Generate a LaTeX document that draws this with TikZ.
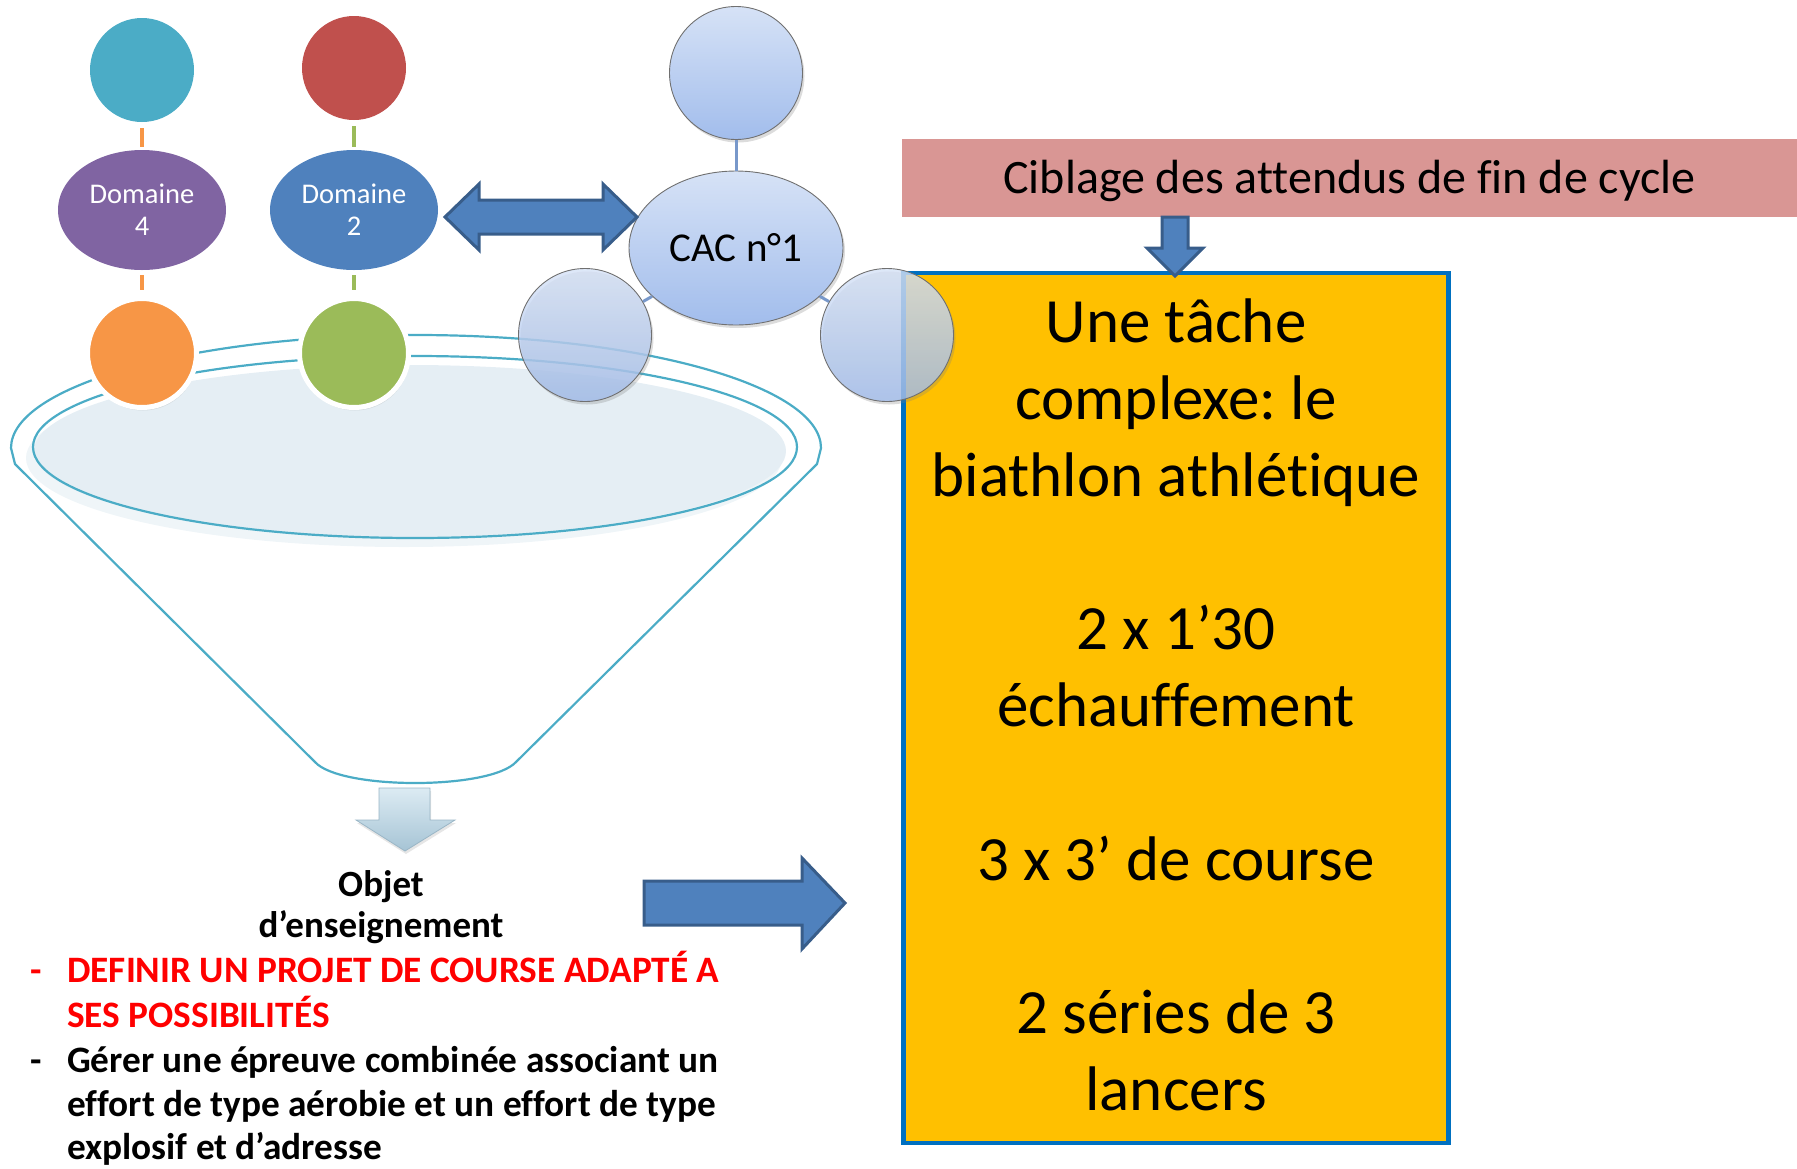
\documentclass[tikz,border=0pt]{standalone}
\usepackage{fontspec}
\setmainfont{Carlito}[Ligatures=NoCommon]
\frenchspacing
\usetikzlibrary{shapes.geometric,shadows}

\definecolor{tealball}{HTML}{4BACC6}
\definecolor{redball}{HTML}{C0504D}
\definecolor{purpleball}{HTML}{8064A2}
\definecolor{blueball}{HTML}{4F81BD}
\definecolor{orangeball}{HTML}{F79646}
\definecolor{greenball}{HTML}{9BBB59}
\definecolor{cactop}{HTML}{D6E2F6}
\definecolor{cacbot}{HTML}{A2BDEC}
\definecolor{cacedge}{HTML}{707070}
\definecolor{cacline}{HTML}{7898CA}
\definecolor{bannerfill}{HTML}{D99694}
\definecolor{taskfill}{HTML}{FFC000}
\definecolor{taskedge}{HTML}{0070C0}
\definecolor{arrowfill}{HTML}{4F81BD}
\definecolor{arrowedge}{HTML}{385D8A}
\definecolor{funnelline}{HTML}{4BACC6}
\definecolor{funnelfill}{HTML}{E5EEF4}
\definecolor{funnelhalo}{HTML}{EFF5F8}
\definecolor{droptop}{HTML}{DCEBF3}
\definecolor{dropbot}{HTML}{A6C4D5}
\definecolor{dropedge}{HTML}{9AB6C6}
\definecolor{redtext}{HTML}{FF0000}

\begin{document}
\begin{tikzpicture}[x=1pt,y=-1pt,
  dot/.style={circle, inner sep=0pt, minimum size=104pt},
  ringdot/.style={dot, minimum size=109pt, draw=white, line width=5pt,
    drop shadow={opacity=0.18, shadow xshift=1pt, shadow yshift=-3pt}},
  domainball/.style={ellipse, inner sep=0pt, minimum width=168pt, minimum height=120pt,
    text=white, align=center, font=\fontsize{28.5}{32}\selectfont},
  cacball/.style={circle, inner sep=0pt, minimum size=133pt, draw=cacedge, line width=0.9pt,
    top color=cactop, bottom color=cacbot,
    drop shadow={opacity=0.28, shadow xshift=2pt, shadow yshift=-3pt}},
  stem/.style={line width=4pt},
  spoke/.style={draw=cacline, line width=3pt},
  blockarrow/.style={fill=arrowfill, draw=arrowedge, line width=3pt, line join=miter},
  funnelstroke/.style={draw=funnelline, line width=2.2pt},
  tasktext/.style={anchor=base, inner sep=0pt, font=\fontsize{63}{77}\selectfont},
  listtext/.style={anchor=base west, inner sep=0pt, font=\bfseries\fontsize{37.3}{44}\selectfont},
  dashtext/.style={anchor=base, inner sep=0pt, font=\bfseries\fontsize{37.3}{44}\selectfont}
]
\useasboundingbox (0,0) rectangle (1797,1168);

% funnel: liquid surface, inner rim and outer body
\fill[funnelhalo] (404,458) ellipse[x radius=378pt, y radius=89pt];
\fill[funnelfill] (410,451) ellipse[x radius=376pt, y radius=86pt];
\draw[funnelstroke] (415,447) ellipse[x radius=382pt, y radius=91pt];
\draw[funnelstroke, line join=round] (15,464) -- (11,448)
  arc[start angle=180, end angle=0, x radius=405pt, y radius=113pt]
  -- (817,464) -- (516,762) .. controls (490,790) and (340,790) .. (315,762) -- cycle;

% output arrow under the funnel
\shade[top color=droptop, bottom color=dropbot, draw=dropedge, line width=0.8pt,
  drop shadow={opacity=0.2, shadow xshift=1pt, shadow yshift=-3pt}]
  (379,788) -- (430,788) -- (430,820) -- (455,820) -- (405,851) -- (356,820) -- (379,820) -- cycle;

% domain columns
\node[dot, fill=tealball] (d4top) at (142,70) {};
\node[domainball, fill=purpleball] (d4) at (142,210) {Domaine\\4};
\node[ringdot, fill=orangeball] (d4bot) at (142,353) {};
\node[dot, fill=redball] (d2top) at (354,68) {};
\node[domainball, fill=blueball] (d2) at (354,210) {Domaine\\2};
\node[ringdot, fill=greenball] (d2bot) at (354,353) {};

\draw[stem, draw=orangeball, shorten <=6pt, shorten >=3pt] (d4top) -- (d4);
\draw[stem, draw=orangeball, shorten <=5pt, shorten >=6pt] (d4) -- (d4bot);
\draw[stem, draw=greenball, shorten <=6pt, shorten >=3pt] (d2top) -- (d2);
\draw[stem, draw=greenball, shorten <=5pt, shorten >=6pt] (d2) -- (d2bot);

% target banner and task box
\node[fill=bannerfill, inner sep=0pt, minimum width=895pt, minimum height=78pt] (banner) at (1349.5,178) {};
\node[anchor=base, inner sep=0pt, font=\fontsize{48}{58}\selectfont] (bannertext) at (1349.5,193)
  {Ciblage des attendus de fin de cycle};

\node[fill=taskfill, draw=taskedge, line width=4.5pt, inner sep=0pt,
  minimum width=545pt, minimum height=870pt] (task) at (1176,708) {};
\node[tasktext] (t1) at (1176,342) {Une tâche};
\node[tasktext] (t2) at (1176,419) {complexe: le};
\node[tasktext] (t3) at (1176,496) {biathlon athlétique};
\node[tasktext] (t4) at (1176,649) {2 x 1’30};
\node[tasktext] (t5) at (1176,726) {échauffement};
\node[tasktext] (t6) at (1176,880) {3 x 3’ de course};
\node[tasktext] (t7) at (1176,1033) {2 séries de 3};
\node[tasktext] (t8) at (1176,1110) {lancers};

\draw[blockarrow] (1162,217) -- (1188,217) -- (1188,248) -- (1203,248) -- (1175,276)
  -- (1147,248) -- (1162,248) -- cycle;

% CAC cluster
\node[cacball, minimum width=214pt, minimum height=154pt, ellipse,
  font=\fontsize{41}{48}\selectfont] (cac) at (736,248) {CAC n°1};
\node[cacball] (cacn) at (736,73) {};
\node[cacball, fill opacity=0.8] (cacw) at (585,335) {};
\node[cacball, fill opacity=0.8] (cace) at (887,335) {};
\draw[spoke] (cacn) -- (cac);
\draw[spoke] (cacw) -- (cac);
\draw[spoke] (cace) -- (cac);

% exchange arrow between Domaine 2 and the CAC
\draw[blockarrow] (445,217) -- (479,184) -- (479,200) -- (603,200) -- (603,184) -- (637,217)
  -- (603,250) -- (603,234) -- (479,234) -- (479,250) -- cycle;

% arrow towards the task
\draw[blockarrow] (644,881) -- (802,881) -- (802,858) -- (845,903) -- (802,949)
  -- (802,925) -- (644,925) -- cycle;

% teaching object and its list
\node[anchor=base, inner sep=0pt, font=\bfseries\fontsize{37}{41}\selectfont] (obj1) at (381,896) {Objet};
\node[anchor=base, inner sep=0pt, font=\bfseries\fontsize{37}{41}\selectfont] (obj2) at (381,937) {d’enseignement};

\node[dashtext, text=redtext] (dash1) at (36,982) {-};
\node[listtext, text=redtext] (r1) at (67,982) {DEFINIR UN PROJET DE COURSE ADAPTÉ A};
\node[listtext, text=redtext] (r2) at (67,1027) {SES POSSIBILITÉS};
\node[dashtext] (dash2) at (36,1072) {-};
\node[listtext] (b1) at (67,1072) {Gérer une épreuve combinée associant un};
\node[listtext] (b2) at (67,1116) {effort de type aérobie et un effort de type};
\node[listtext] (b3) at (67,1159) {explosif et d’adresse};
\end{tikzpicture}
\end{document}
